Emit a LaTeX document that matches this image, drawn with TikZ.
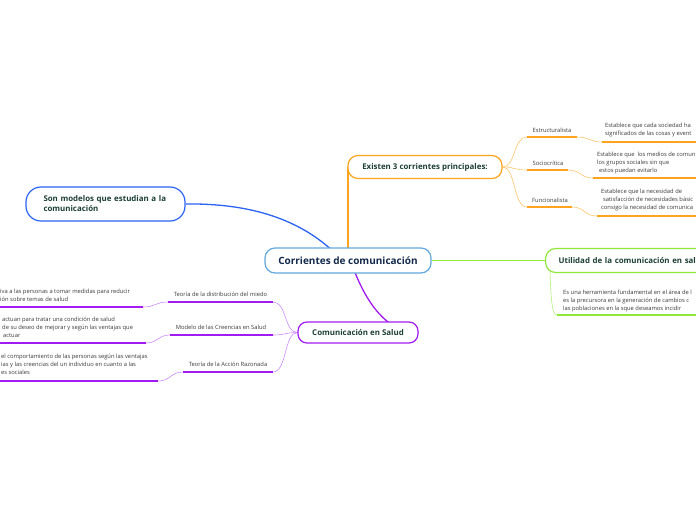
\documentclass[tikz,border=0pt]{standalone}
\usepackage{fontspec}
\setmainfont{Open Sans}
\usetikzlibrary{backgrounds}
\definecolor{cblue}{HTML}{2B63F5}
\definecolor{ccentral}{HTML}{62A8DD}
\definecolor{corange}{HTML}{FFA41C}
\definecolor{corangel}{HTML}{FFC66E}
\definecolor{cgreen}{HTML}{8DE83A}
\definecolor{cgreenl}{HTML}{B2F27A}
\definecolor{cpurple}{HTML}{A21CF2}
\definecolor{cpurplel}{HTML}{CC8CFF}
\definecolor{cnavy}{HTML}{13294B}
\definecolor{cdark}{HTML}{1C3F35}
\definecolor{csmall}{HTML}{3A3A3A}
\tikzset{
  box/.style={draw, fill=white, line width=1.2pt, inner sep=3pt},
  topic/.style={font=\fontsize{7.9}{10}\selectfont\bfseries, text=cdark},
  small/.style={font=\fontsize{5.8}{8}\selectfont, text=csmall, inner sep=0pt},
  desc/.style={small, align=left, anchor=base west},
  lbl/.style={small, anchor=base},
  thin/.style={line width=0.6pt},
  uline/.style={line width=1.6pt},
  mainline/.style={line width=1.3pt}
}
\begin{document}
\begin{tikzpicture}[x=1pt,y=-1pt]
\clip (0,0) rectangle (696,520);

% main nodes
\node[box, draw=ccentral, minimum width=166, minimum height=25, rounded corners=10,
      font=\fontsize{10}{11}\selectfont\bfseries, text=cnavy] (root) at (348,260.5) {Corrientes de comunicación};
\node[box, topic, draw=cblue, minimum width=159, minimum height=34, rounded corners=15,
      text width=124, align=left] (blue) at (105.5,204) {Son modelos que estudian a la\\comunicación};
\node[box, topic, draw=corange, minimum width=154, minimum height=23, rounded corners=10] (ex) at (425,167) {Existen 3 corrientes principales:};
\node[box, topic, draw=cgreen, minimum height=24, rounded corners=10, anchor=west,
      text width=190, inner xsep=13pt, align=left] (green) at (545,260.5) {Utilidad de la comunicación en salud};
\node[box, topic, draw=cpurple, minimum width=120, minimum height=21, rounded corners=9] (pur) at (358,332.5) {Comunicación en Salud};

% attachment coordinates
\coordinate (rootB) at (330,248.5);
\coordinate (rootO) at (348,248.5);
\coordinate (exO) at (348,167);
\coordinate (rootP) at (355,272.5);
\coordinate (gS) at (550,271);

% orange children
\coordinate (o1a) at (527,137); \coordinate (o1b) at (577,137);
\coordinate (o2a) at (527,170); \coordinate (o2b) at (568,170);
\coordinate (o3a) at (527,207); \coordinate (o3b) at (572,207);
\coordinate (od1a) at (602,142); \coordinate (od1b) at (700,142);
\coordinate (od2a) at (593,178); \coordinate (od2b) at (700,178);
\coordinate (od3a) at (597,216); \coordinate (od3b) at (700,216);
\node[lbl] (o1) at (552,132) {Estructuralista};
\node[lbl] (o2) at (548,165) {Sociocrítica};
\node[lbl] (o3) at (550,202) {Funcionalista};
\node[desc] (od1) at (605,135.5) {Establece que cada sociedad ha\\significados de las cosas y event};
\node[desc] (od2) at (597,172.5) {Establece que\ \ los medios de comun\\los grupos sociales sin que\\\hspace{2pt}estos puedan evitarlo};
\node[desc] (od3) at (601,209.5) {Establece que la necesidad de\\\hspace{2pt}satisfacción de necesidades básic\\consigo la necesidad de comunica};

% green child
\coordinate (gd1a) at (557,315); \coordinate (gd1b) at (700,315);
\node[desc] (gd1) at (563,310) {Es una herramienta fundamental en el área de l\\es la precursora en la generación de cambios c\\las poblaciones en la sque deseamos incidir};

% purple children
\coordinate (p1a) at (273,302); \coordinate (p1b) at (168,302);
\coordinate (p2a) at (273,335); \coordinate (p2b) at (170,335);
\coordinate (p3a) at (273,372); \coordinate (p3b) at (183,372);
\coordinate (pd1a) at (143,307); \coordinate (pd1b) at (-5,307);
\coordinate (pd2a) at (146,343); \coordinate (pd2b) at (-5,343);
\coordinate (pd3a) at (158,381); \coordinate (pd3b) at (-5,381);
\node[lbl] (p1) at (220.5,296.5) {Teoría de la distribución del miedo};
\node[lbl] (p2) at (221,329) {Modelo de las Creencias en Salud};
\node[lbl] (p3) at (228,366) {Teoría de la Acción Razonada};
\node[desc] (pd1) at (0,301.5) {iva a las personas a tomar medidas para reducir\\ión sobre temas de salud};
\node[desc] (pd2) at (2,337.5) {actuan para tratar una condición de salud\\de su deseo de mejorar y según las ventajas que\\\hspace{1pt}actuar};
\node[desc] (pd3) at (1,374.5) {el comportamiento de las personas según las ventajas\\ias y las creencias del un individuo en cuanto a las\\es sociales};

\begin{pgfonlayer}{background}
\fill[white] (0,0) rectangle (696,520);
% main connectors
\draw[mainline, cblue] (blue.east) .. controls (255,203) and (300,222) .. (rootB);
\draw[mainline, corange] (rootO) -- (exO);
\draw[mainline, cgreen] (root.east) -- (green.west);
\draw[mainline, cpurple] (rootP) .. controls (370,310) and (392,334) .. (pur.east);

% orange
\draw[thin, corangel] (ex.east) .. controls (516,167) and (513,137) .. (o1a);
\draw[thin, corangel] (ex.east) .. controls (516,167) and (513,170) .. (o2a);
\draw[thin, corangel] (ex.east) .. controls (516,167) and (513,207) .. (o3a);
\draw[uline, corange] (o1a) -- (o1b);
\draw[uline, corange] (o2a) -- (o2b);
\draw[uline, corange] (o3a) -- (o3b);
\draw[thin, corangel] (o1b) .. controls (590,137) and (589,142) .. (od1a);
\draw[thin, corangel] (o2b) .. controls (581,170) and (580,178) .. (od2a);
\draw[thin, corangel] (o3b) .. controls (585,207) and (584,216) .. (od3a);
\draw[uline, corange] (od1a) -- (od1b);
\draw[uline, corange] (od2a) -- (od2b);
\draw[uline, corange] (od3a) -- (od3b);

% green
\draw[thin, cgreenl] (gS) .. controls (551,300) and (552,315) .. (gd1a);
\draw[uline, cgreen] (gd1a) -- (gd1b);

% purple
\draw[thin, cpurplel] (pur.west) .. controls (284,332.5) and (287,302) .. (p1a);
\draw[thin, cpurplel] (pur.west) .. controls (284,332.5) and (287,335) .. (p2a);
\draw[thin, cpurplel] (pur.west) .. controls (284,332.5) and (287,372) .. (p3a);
\draw[uline, cpurple] (p1a) -- (p1b);
\draw[uline, cpurple] (p2a) -- (p2b);
\draw[uline, cpurple] (p3a) -- (p3b);
\draw[thin, cpurplel] (p1b) .. controls (155,302) and (156,307) .. (pd1a);
\draw[thin, cpurplel] (p2b) .. controls (157,335) and (159,343) .. (pd2a);
\draw[thin, cpurplel] (p3b) .. controls (170,372) and (171,381) .. (pd3a);
\draw[uline, cpurple] (pd1a) -- (pd1b);
\draw[uline, cpurple] (pd2a) -- (pd2b);
\draw[uline, cpurple] (pd3a) -- (pd3b);
\end{pgfonlayer}
\end{tikzpicture}
\end{document}
